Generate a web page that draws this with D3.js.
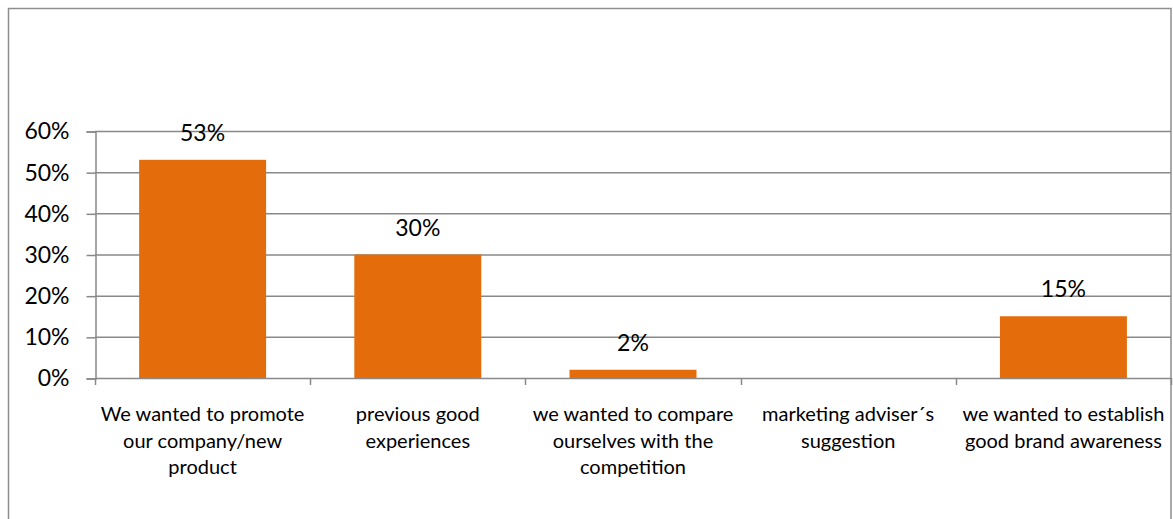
<!DOCTYPE html>
<html>
<head>
<meta charset="utf-8">
<script src="https://cdn.jsdelivr.net/npm/d3@7"></script>
<style>
  html, body { margin: 0; padding: 0; background: #fff; }
  svg { display: block; }
  text { font-family: Lato, "Open Sans", sans-serif; fill: #000; }
</style>
</head>
<body>
<svg id="chart" width="1173" height="519"></svg>
<script>
// Survey: reasons for participating
const categories = [
  ["We wanted to promote", "our company/new", "product"],
  ["previous good", "experiences"],
  ["we wanted to compare", "ourselves with the", "competition"],
  ["marketing adviser´s", "suggestion"],
  ["we wanted to establish", "good brand awareness"]
];
const values = [53, 30, 2, 0, 15];
const valueLabels = ["53%", "30%", "2%", "", "15%"];
const yTicks = [0, 10, 20, 30, 40, 50, 60];

const svg = d3.select("#chart");
const plot = { left: 95, right: 1171, top: 131, bottom: 378 };
const numSize = 23;
const catSize = 20;
const gridColor = "#898989";
const barColor = "#E46C0A";

// outer chart frame
svg.append("rect")
  .attr("x", 8.5).attr("y", 8.5)
  .attr("width", 1162.5).attr("height", 520)
  .attr("fill", "none").attr("stroke", "#8e8e8e").attr("stroke-width", 1.5);

const x = d3.scaleBand()
  .domain(d3.range(categories.length))
  .range([plot.left, plot.right])
  .paddingInner(0.41).paddingOuter(0.205);

const y = d3.scaleLinear().domain([0, 60]).range([plot.bottom, plot.top]);

// horizontal gridlines
svg.append("g").selectAll("line")
  .data(yTicks.filter(d => d > 0))
  .join("line")
  .attr("x1", plot.left).attr("x2", plot.right)
  .attr("y1", d => y(d) + 0.5).attr("y2", d => y(d) + 0.5)
  .attr("stroke", gridColor).attr("stroke-width", 1.5);

// y axis
const yAxis = d3.axisLeft(y).tickValues(yTicks)
  .tickFormat(d => d + "%").tickSize(9).tickPadding(17);
const gy = svg.append("g").attr("transform", `translate(${plot.left + 0.5},0.5)`).call(yAxis);
gy.select(".domain").attr("stroke", gridColor).attr("stroke-width", 1.5);
gy.selectAll(".tick line").attr("stroke", gridColor).attr("stroke-width", 1.5);
gy.selectAll(".tick text")
  .style("font-family", "Lato, 'Open Sans', sans-serif")
  .style("font-size", numSize + "px").attr("fill", "#000");

// bars
svg.append("g").selectAll("rect")
  .data(values)
  .join("rect")
  .attr("x", (d, i) => x(i))
  .attr("width", x.bandwidth())
  .attr("y", d => y(d))
  .attr("height", d => y(0) - y(d))
  .attr("fill", barColor);

// x axis baseline and category boundary ticks
const bounds = d3.range(categories.length + 1)
  .map(i => plot.left + i * (plot.right - plot.left) / categories.length);
svg.append("line")
  .attr("x1", plot.left).attr("x2", plot.right)
  .attr("y1", y(0) + 0.5).attr("y2", y(0) + 0.5)
  .attr("stroke", gridColor).attr("stroke-width", 1.5);
svg.append("g").selectAll("line")
  .data(bounds)
  .join("line")
  .attr("x1", d => Math.round(d) + 0.5).attr("x2", d => Math.round(d) + 0.5)
  .attr("y1", y(0)).attr("y2", y(0) + 7)
  .attr("stroke", gridColor).attr("stroke-width", 1.5);

// value labels
svg.append("g").selectAll("text")
  .data(values)
  .join("text")
  .attr("x", (d, i) => x(i) + x.bandwidth() / 2)
  .attr("y", d => y(d) - 19)
  .attr("text-anchor", "middle")
  .style("font-size", numSize + "px")
  .text((d, i) => valueLabels[i]);

// category labels
const catG = svg.append("g").selectAll("text")
  .data(categories)
  .join("text")
  .attr("x", (d, i) => x(i) + x.bandwidth() / 2)
  .attr("y", 421)
  .attr("text-anchor", "middle")
  .style("font-size", catSize + "px");
catG.selectAll("tspan")
  .data(d => d)
  .join("tspan")
  .attr("x", function() { return d3.select(this.parentNode).attr("x"); })
  .attr("dy", (d, j) => j === 0 ? 0 : 26.7)
  .text(d => d);
</script>
</body>
</html>
